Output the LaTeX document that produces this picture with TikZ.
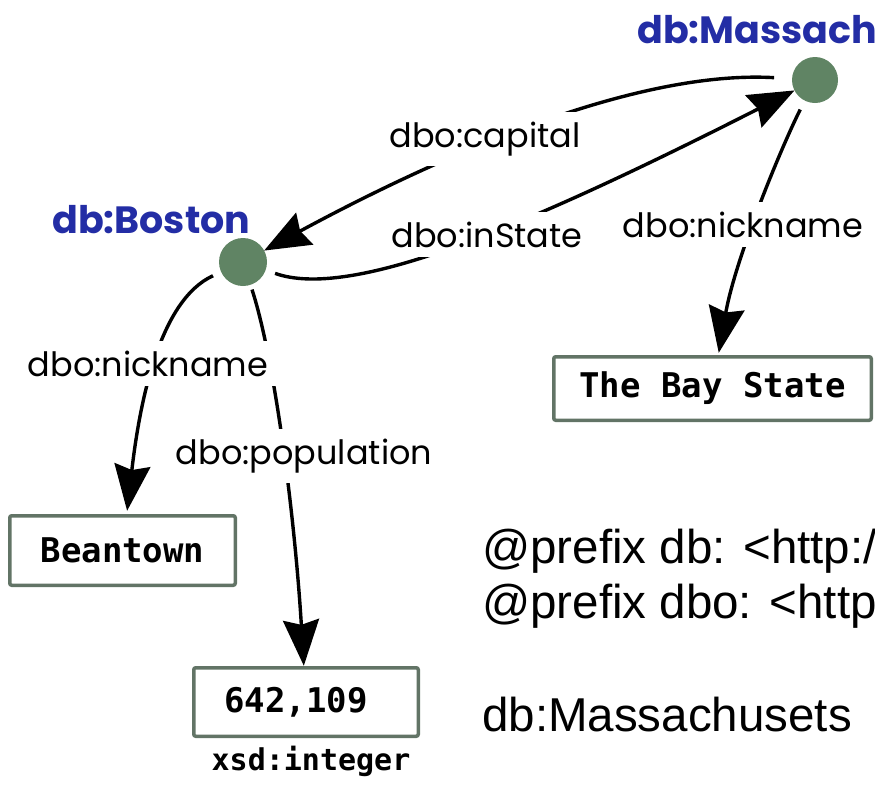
\documentclass[tikz,border=0pt]{standalone}
\usepackage{fontspec}
\setmainfont{Poppins}
\newfontfamily\monofont{DejaVu Sans Mono}
\newfontfamily\arialfont{Liberation Sans}
\usetikzlibrary{arrows.meta}
\definecolor{nodegreen}{RGB}{96,132,100}
\definecolor{boxgreen}{RGB}{98,116,102}
\definecolor{uriblue}{RGB}{35,45,165}

\begin{document}
\begin{tikzpicture}[x=1pt,y=-1pt,
  resource/.style={circle, fill=nodegreen, minimum size=48pt, inner sep=0pt, outer sep=0pt},
  uri/.style={text=uriblue, font=\fontsize{38}{38}\selectfont\bfseries, anchor=base west, inner sep=0pt},
  literal/.style={draw=boxgreen, line width=3.5pt, rounded corners=2pt,
    font=\monofont\bfseries\fontsize{34}{34}\selectfont, inner sep=0pt, outer sep=0pt},
  datatype/.style={font=\monofont\bfseries\fontsize{30}{30}\selectfont, anchor=base, inner sep=0pt},
  prop/.style={fill=white, font=\fontsize{33.5}{33.5}\selectfont, inner xsep=8pt, inner ysep=10pt, anchor=base},
  rel/.style={line width=3.4pt, -{Stealth[length=46pt,width=36pt,inset=5pt]}},
  turtle/.style={font=\arialfont\fontsize{47.5}{47.5}\selectfont, anchor=base west, inner sep=0pt}
]
\useasboundingbox (0,0) rectangle (875,785);
\clip (0,0) rectangle (875,785);

% resources
\node[resource] (boston) at (243,262) {};
\node[resource, minimum size=46pt] (mass) at (815,80) {};
\node[uri] (tboston) at (52,233) {db:Boston};
\node[uri] (tmass) at (637,43) {db:Massachusetts};

% literals
\node[literal, minimum width=225.5pt, minimum height=69.5pt] (bean) at (122.5,550.5) {Beantown};
\node[literal, minimum width=224.5pt, minimum height=68.5pt] (pop) at (306,702) {\hspace*{-20pt}642,109};
\node[datatype] (dtype) at (311,770) {xsd:integer};
\node[literal, minimum width=317.5pt, minimum height=63.5pt] (bay) at (712.5,388.5) {The Bay State};

% relations
\draw[rel, shorten <=18pt] (mass) .. controls (640,70) and (450,150) .. (boston);
\draw[rel, shorten <=10pt] (boston) .. controls (350,300) and (520,230) .. (mass);
\draw[rel, shorten <=10pt, shorten >=4pt] (mass) .. controls (780,150) and (735,260) .. (bay);
\draw[rel, shorten <=9pt, shorten >=5pt] (boston) .. controls (160,300) and (140,400) .. (bean);
\draw[rel, shorten <=5pt, shorten >=2pt] (boston) .. controls (275,360) and (295,520) .. (pop);

% relation labels
\node[prop] (lcap) at (485,147) {dbo:capital};
\node[prop] (lin) at (487,247) {dbo:inState};
\node[prop] (lnickm) at (743,237) {dbo:nickname};
\node[prop] (lnickb) at (148,376) {dbo:nickname};
\node[prop] (lpop) at (304,464) {dbo:population};

% turtle prefixes
\node[turtle] (p1) at (482,563) {@prefix db: <http://dbpedia.org/resource/>};
\node[turtle] (p2) at (482,618) {@prefix dbo: <http://dbpedia.org/ontology/>};
\node[turtle] (ex) at (482,731) {db:Massachusets};
\end{tikzpicture}
\end{document}
